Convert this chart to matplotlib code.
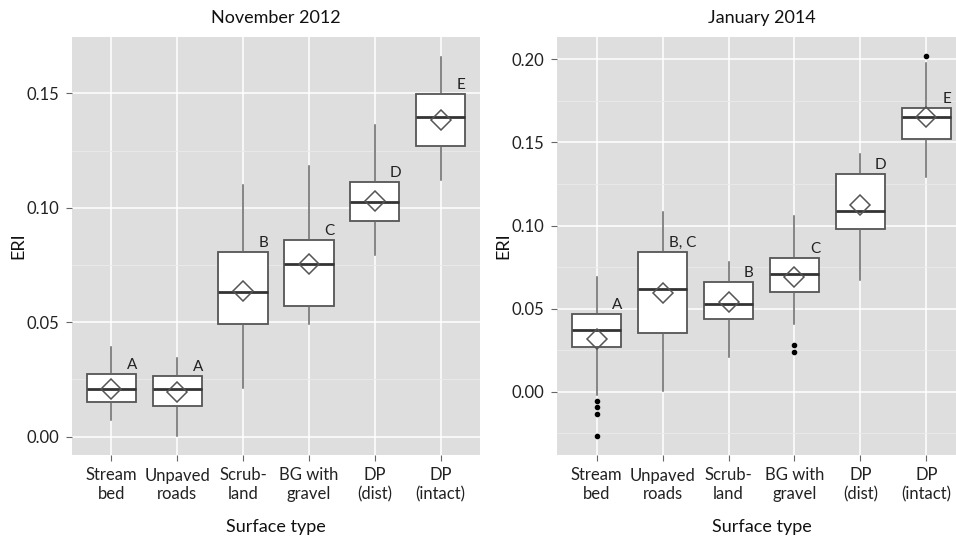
import numpy as np
import matplotlib
matplotlib.use('Agg')
import matplotlib.pyplot as plt

plt.rcParams['font.family'] = ['Lato', 'DejaVu Sans']

categories = ["Stream\nbed", "Unpaved\nroads", "Scrub-\nland", "BG with\ngravel", "DP\n(dist)", "DP\n(intact)"]

# November 2012 summary stats per surface type
nov_whislo = [0.0073, 0.0003, 0.0211, 0.0492, 0.0793, 0.1121]
nov_q1 = [0.0150, 0.0134, 0.0491, 0.0571, 0.0941, 0.1272]
nov_med = [0.0208, 0.0208, 0.0633, 0.0753, 0.1026, 0.1396]
nov_q3 = [0.0272, 0.0266, 0.0808, 0.0859, 0.1111, 0.1495]
nov_whishi = [0.0390, 0.0342, 0.1099, 0.1182, 0.1361, 0.1659]
nov_mean = [0.0210, 0.0195, 0.0635, 0.0756, 0.1028, 0.1383]
nov_fliers = [[], [], [], [], [], []]
nov_groups = ["A", "A", "B", "C", "D", "E"]

# January 2014 summary stats per surface type
jan_whislo = [-0.0020, 0.0004, 0.0211, 0.0406, 0.0672, 0.1290]
jan_q1 = [0.0267, 0.0355, 0.0437, 0.0598, 0.0977, 0.1520]
jan_med = [0.0371, 0.0618, 0.0530, 0.0708, 0.1089, 0.1655]
jan_q3 = [0.0468, 0.0841, 0.0658, 0.0806, 0.1308, 0.1705]
jan_whishi = [0.0688, 0.1081, 0.0782, 0.1057, 0.1428, 0.1980]
jan_mean = [0.0315, 0.0592, 0.0538, 0.0692, 0.1122, 0.1651]
jan_fliers = [[-0.0056, -0.0090, -0.0136, -0.0267], [], [], [0.0283, 0.0241], [], [0.2020]]
jan_groups = ["A", "B, C", "B", "C", "D", "E"]

W, H = 956, 538
fig = plt.figure(figsize=(W / 100, H / 100), dpi=100)

bg = "#DEDEDE"
edge = "#555555"


def panel(rect, title, whislo, q1, med, q3, whishi, mean, fliers, groups,
          ylim, major, minor):
    ax = fig.add_axes(rect)
    ax.set_facecolor(bg)
    for s in ax.spines.values():
        s.set_visible(False)

    stats = []
    for i in range(len(categories)):
        stats.append(dict(whislo=whislo[i], q1=q1[i], med=med[i], q3=q3[i],
                          whishi=whishi[i], mean=mean[i], fliers=fliers[i]))
    pos = np.arange(1, len(categories) + 1)
    ax.bxp(stats, positions=pos, widths=0.75, patch_artist=True,
           showmeans=True, showcaps=False, zorder=3,
           boxprops=dict(facecolor="white", edgecolor=edge, linewidth=1.3),
           medianprops=dict(color="#333333", linewidth=2.0),
           whiskerprops=dict(color="#666666", linewidth=1.1),
           meanprops=dict(marker="D", markersize=10, markerfacecolor="none",
                          markeredgecolor=edge, markeredgewidth=1.1),
           flierprops=dict(marker="o", markersize=3, markerfacecolor="black",
                           markeredgecolor="black"))

    # group letters just above the top right of each box
    for i, g in enumerate(groups):
        ax.annotate(g, (pos[i] + 0.31, q3[i]), xytext=(0, 5),
                    textcoords="offset pixels", ha="center", va="baseline",
                    fontsize=11, color="#222222")

    ax.set_xlim(0.4, len(categories) + 0.6)
    ax.set_ylim(*ylim)
    ax.set_yticks(major)
    ax.set_yticklabels([f"{v:.2f}" for v in major])
    ax.set_yticks(minor, minor=True)
    ax.set_xticks(pos)
    ax.set_xticklabels(categories)
    ax.grid(True, which="major", color="white", linewidth=1.1, zorder=0)
    ax.grid(True, which="minor", axis="y", color="#EBEBEB", linewidth=0.6, zorder=0)
    ax.set_axisbelow(True)
    ax.tick_params(which="major", length=4, color="#666666", labelsize=12,
                   labelcolor="#222222", pad=5)
    ax.tick_params(which="minor", length=0)
    ax.set_title(title, fontsize=13, pad=10, color="#111111")
    ax.set_xlabel("Surface type", fontsize=13, labelpad=12, color="#111111")
    ax.set_ylabel("ERI", fontsize=13, labelpad=0, color="#111111")
    return ax


panel([72 / W, 1 - 455 / H, 408 / W, 418 / H], "November 2012",
      nov_whislo, nov_q1, nov_med, nov_q3, nov_whishi, nov_mean, nov_fliers,
      nov_groups, (-0.008, 0.1746), [0.0, 0.05, 0.10, 0.15],
      [0.025, 0.075, 0.125])

panel([557 / W, 1 - 455 / H, 409 / W, 418 / H], "January 2014",
      jan_whislo, jan_q1, jan_med, jan_q3, jan_whishi, jan_mean, jan_fliers,
      jan_groups, (-0.038, 0.2134), [0.0, 0.05, 0.10, 0.15, 0.20],
      [-0.025, 0.025, 0.075, 0.125, 0.175])

fig.savefig("out.png", dpi=100)
